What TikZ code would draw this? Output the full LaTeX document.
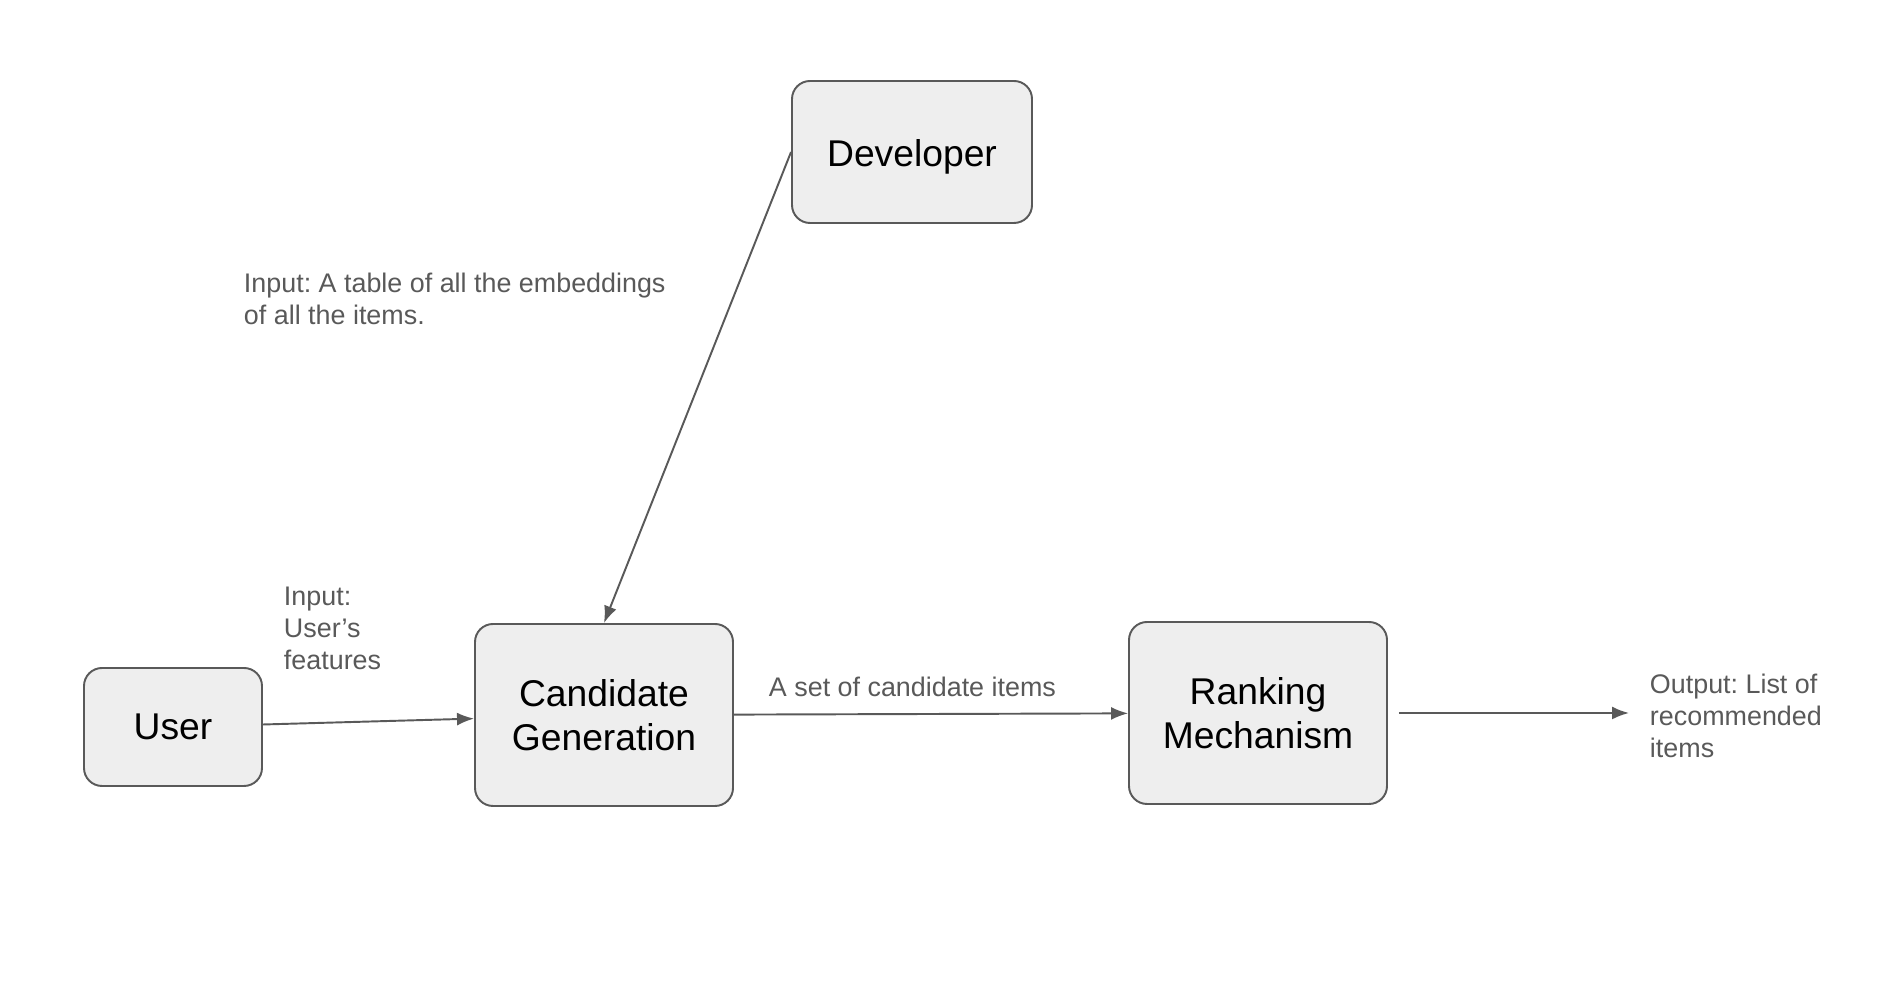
\documentclass[tikz,border=0pt]{standalone}
\usepackage{fontspec}
\setmainfont{Liberation Sans}
\usetikzlibrary{arrows.meta}
\definecolor{boxfill}{HTML}{EEEEEE}
\definecolor{linegray}{HTML}{595959}
\frenchspacing

\begin{document}
\begin{tikzpicture}[line width=1.1pt]
                \tikzstyle{box}=[rectangle, draw=linegray, fill=boxfill, rounded corners=0.36cm, inner sep=0pt, align=center, font=\fontsize{21.2}{25}\selectfont]
                \tikzstyle{note}=[inner sep=0pt, align=left, text=linegray, font=\fontsize{15.3}{18.2}\selectfont]
                \tikzstyle{arrow}=[draw=linegray, -{Latex[length=0.34cm, width=0.26cm]}]
                \useasboundingbox (0,0) rectangle (37.56,19.64);

                \node[box, minimum width=4.8cm, minimum height=2.84cm, text height=21pt] (dev) at (18.24, 16.60) {Developer};
                \node[box, minimum width=3.56cm, minimum height=2.36cm] (user) at (3.46, 5.10) {User};
                \node[box, minimum width=5.16cm, minimum height=3.64cm] (cand) at (12.08, 5.34) {Candidate\\Generation};
                \node[box, minimum width=5.16cm, minimum height=3.64cm] (rank) at (25.16, 5.38) {Ranking\\Mechanism};
                \coordinate (out) at (32.58, 5.38);

                \node[note, anchor=north west] (table) at (4.86, 14.20) {Input: A table of all the embeddings\\of all the items.};
                \node[note, anchor=north west] (feat) at (5.66, 7.91) {Input:\\User’s\\features};
                \node[note, anchor=base west] (set) at (15.36, 5.71) {A set of candidate items};
                \node[note, anchor=north west] (list) at (32.98, 6.18) {Output: List of\\recommended\\items};

                \path (dev.west) edge[arrow] (cand.north);
                \path (user) edge[arrow] (cand);
                \path (cand) edge[arrow] (rank);
                \path (rank) edge[arrow, shorten <=0.22cm] (out);
            \end{tikzpicture}
\end{document}
